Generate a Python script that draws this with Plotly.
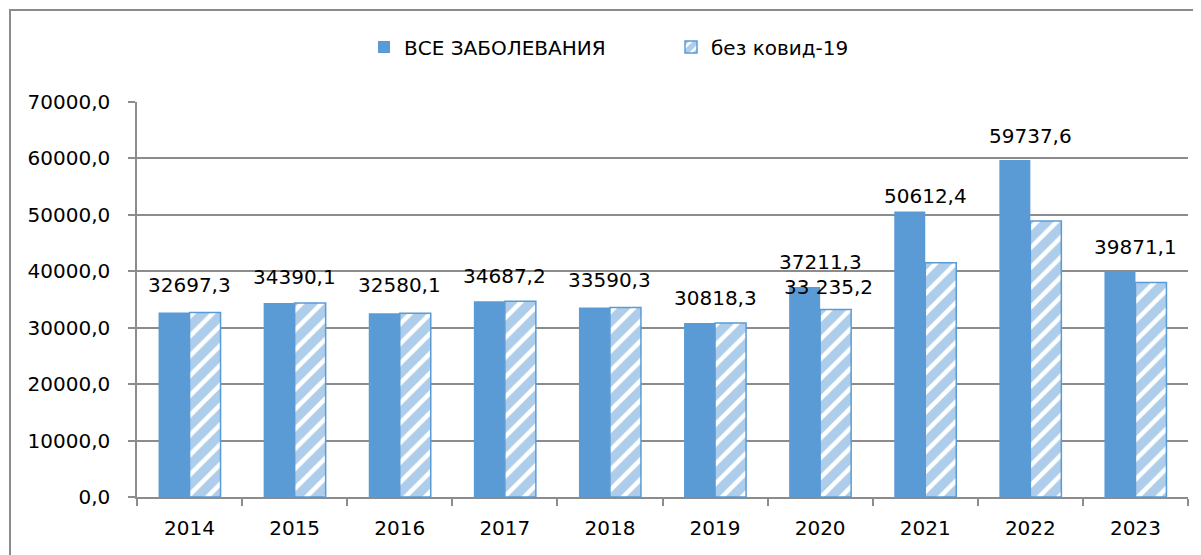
import plotly.graph_objects as go

years = ["2014", "2015", "2016", "2017", "2018", "2019", "2020", "2021", "2022", "2023"]
all_diseases = [32697.3, 34390.1, 32580.1, 34687.2, 33590.3, 30818.3, 37211.3, 50612.4, 59737.6, 39871.1]
no_covid = [32697.3, 34390.1, 32580.1, 34687.2, 33590.3, 30818.3, 33235.2, 41500.0, 48900.0, 38000.0]
series_names = ["ВСЕ ЗАБОЛЕВАНИЯ", "без ковид-19"]
y_ticks = [0, 10000, 20000, 30000, 40000, 50000, 60000, 70000]

BLUE = "#5B9BD5"
GRAY = "#8c8c8c"
FONT = "DejaVu Sans"

def fmt(v, group=False):
    s = f"{v:,.1f}" if group else f"{v:.1f}"
    return s.replace(",", " ").replace(".", ",")

fig = go.Figure()
fig.add_trace(go.Bar(
    x=years, y=all_diseases, name=series_names[0],
    marker=dict(color=BLUE, line=dict(width=0)),
))
fig.add_trace(go.Bar(
    x=years, y=no_covid, name=series_names[1],
    marker=dict(color="white", line=dict(color=BLUE, width=1.5),
                pattern=dict(shape="/", fgcolor=BLUE, bgcolor="white", size=14, solidity=0.68)),
))

# data labels (solid series), pixel offsets above bar tops; x given as category index
label_shift = [27, 26, 28, 25, 27, 25, 25, 15, 24, 25]
for i, (v, sh) in enumerate(zip(all_diseases, label_shift)):
    fig.add_annotation(x=i, y=v, text=fmt(v), showarrow=False, yanchor="middle",
                       yshift=sh, font=dict(family=FONT, size=20, color="black"))
# extra label for 2020 second series
i20 = years.index("2020")
fig.add_annotation(x=i20, y=no_covid[i20], text=fmt(no_covid[i20], group=True), showarrow=False,
                   yanchor="middle", yshift=22, xshift=8,
                   font=dict(family=FONT, size=20, color="black"))

# page body has an 8px margin; the figure is laid out to land on target screen pixels
OFF = 8
W, H = 1201, 555
L, T = 137 - OFF, 102 - OFF
R = OFF + W - 1188
B = OFF + H - 497
pw, ph = W - L - R, H - T - B
# outer chart border
fig.add_shape(type="rect", xref="paper", yref="paper",
              x0=(10 - 137) / pw, x1=1.2, y0=-0.5, y1=1 + (102 - 10) / ph,
              line=dict(color=GRAY, width=2), fillcolor="rgba(0,0,0,0)", layer="below")

fig.update_layout(
    width=W, height=H,
    margin=dict(l=L, r=R, t=T, b=B),
    paper_bgcolor="white", plot_bgcolor="white",
    barmode="group", bargap=0.41, bargroupgap=0,
    separators=", ",
    font=dict(family=FONT, size=20, color="black"),
    legend=dict(orientation="h", x=(381 - 137 - 17) / pw, xanchor="left",
                y=1 + (102 - 47) / ph, yanchor="middle",
                font=dict(family=FONT, size=20, color="black"),
                entrywidth=262, itemwidth=30, traceorder="normal"),
    showlegend=True,
)
fig.update_xaxes(
    type="category", categoryorder="array", categoryarray=years,
    range=[-0.5, len(years) - 0.5],
    showline=True, linecolor=GRAY, linewidth=1.5,
    ticks="outside", ticklen=7, tickcolor=GRAY, tickwidth=1.5, tickson="boundaries",
    ticklabelstandoff=12, showgrid=False,
    tickfont=dict(family=FONT, size=20, color="black"),
)
fig.update_yaxes(
    range=[0, 70000], tickvals=y_ticks, tickformat=".1f",
    showline=True, linecolor=GRAY, linewidth=1.5,
    ticks="outside", ticklen=7, tickcolor=GRAY, tickwidth=1.5,
    ticklabelstandoff=14,
    showgrid=True, gridcolor=GRAY, gridwidth=1.5, zeroline=False,
    tickfont=dict(family=FONT, size=20, color="black"),
)

fig.write_html("out.html")
